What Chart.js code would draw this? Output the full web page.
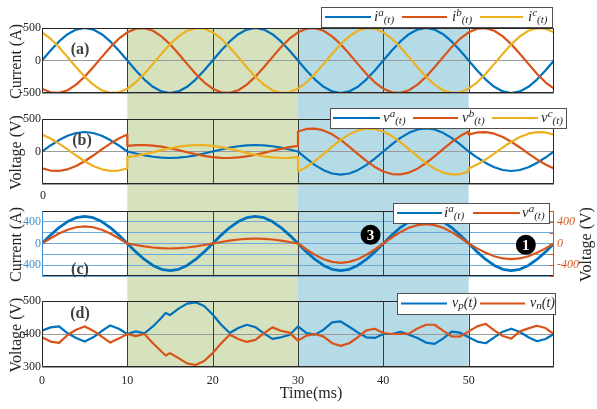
<!DOCTYPE html>
<html>
<head>
<meta charset="utf-8">
<title>Converter waveforms</title>
<script src="https://cdn.jsdelivr.net/npm/chart.js@4.4.1/dist/chart.umd.min.js"></script>
<style>
  html, body { margin: 0; background: #fff; }
  #wrap { position: relative; width: 597px; height: 409px; }
</style>
</head>
<body>
<div id="wrap"><canvas id="chart"></canvas></div>
<script>
// time base in ms
const tMs = [0,1,2,3,4,5,6,7,8,9,10,11,12,13,14,15,16,17,18,19,20,21,22,23,24,25,26,27,28,29,30,
  31,32,33,34,35,36,37,38,39,40,41,42,43,44,45,46,47,48,49,50,51,52,53,54,55,56,57,58,59,60];
// phase voltages step at every mode change, so 10/30/50 ms appear twice
const tStep = [0,1,2,3,4,5,6,7,8,9,10,10,11,12,13,14,15,16,17,18,19,20,21,22,23,24,25,26,27,28,29,30,
  30,31,32,33,34,35,36,37,38,39,40,41,42,43,44,45,46,47,48,49,50,50,51,52,53,54,55,56,57,58,59,60];
const tRipple = [0,1,2,3,4,5,6,7,8,9,10,11,12,13,14,14.5,15,16,17,18,19,20,21,22,23,24,25,26,27,28,29,30,
  31,32,33,34,35,36,37,38,39,40,41,42,43,44,45,46,47,48,49,50,51,52,53,54,55,56,57,58,59,60];

// operating modes (ms)
const modeGreen = [10, 30];
const modeBlue = [30, 50];
const gridTimes = [10, 20, 30, 40, 50];

// (a) phase currents, A
const ia = [0,155,294,405,476,500,476,405,294,155,0,-155,-294,-405,-476,-500,-476,-405,-294,-155,
  0,155,294,405,476,500,476,405,294,155,0,-155,-294,-405,-476,-500,-476,-405,-294,-155,
  0,155,294,405,476,500,476,405,294,155,0,-155,-294,-405,-476,-500,-476,-405,-294,-155,0];
const ib = [-433,-489,-497,-457,-372,-250,-104,52,203,335,433,489,497,457,372,250,104,-52,-203,-335,
  -433,-489,-497,-457,-372,-250,-104,52,203,335,433,489,497,457,372,250,104,-52,-203,-335,
  -433,-489,-497,-457,-372,-250,-104,52,203,335,433,489,497,457,372,250,104,-52,-203,-335,-433];
const ic = [433,335,203,52,-104,-250,-372,-457,-497,-489,-433,-335,-203,-52,104,250,372,457,497,489,
  433,335,203,52,-104,-250,-372,-457,-497,-489,-433,-335,-203,-52,104,250,372,457,497,489,
  433,335,203,52,-104,-250,-372,-457,-497,-489,-433,-335,-203,-52,104,250,372,457,497,489,433];

// (b) phase voltages, V
const va = [0,93,176,243,285,300,285,243,176,93,0,
  0,-31,-59,-81,-95,-100,-95,-81,-59,-31,0,31,59,81,95,100,95,81,59,31,0,
  0,-110,-209,-287,-338,-355,-338,-287,-209,-110,0,110,209,287,338,355,338,287,209,110,0,
  0,-93,-176,-243,-285,-300,-285,-243,-176,-93,0];
const vb = [-260,-293,-299,-274,-223,-150,-62,32,122,201,260,
  87,98,100,91,74,50,21,-11,-41,-67,-87,-98,-100,-91,-74,-50,-21,11,41,67,87,
  307,347,353,324,264,178,74,-37,-144,-237,-307,-347,-353,-324,-264,-178,-74,37,144,237,307,
  260,293,299,274,223,150,62,-32,-122,-201,-260];
const vc = [260,201,122,32,-62,-150,-223,-274,-299,-293,-260,
  -87,-67,-41,-11,21,50,74,91,100,98,87,67,41,11,-21,-50,-74,-91,-100,-98,-87,
  -307,-237,-144,-37,74,178,264,324,353,347,307,237,144,37,-74,-178,-264,-324,-353,-347,-307,
  -260,-201,-122,-32,62,150,223,274,299,293,260];

// (c) phase a voltage on the right axis, V
const vaRight = [0,97,185,255,300,315,300,255,185,97,
  0,-28,-54,-74,-87,-92,-87,-74,-54,-28,
  0,28,54,74,87,92,87,74,54,28,
  0,-111,-210,-290,-340,-358,-340,-290,-210,-111,
  0,111,210,290,340,358,340,290,210,111,
  0,-90,-171,-235,-276,-290,-276,-235,-171,-90,0];

// (d) dc-link capacitor voltages, V
const vp = [410,420,423,402,388,377,390,409,426,416,400,
  408,402,423,449,464,457,477,492,496,485,459,
  428,403,418,428,421,402,385,390,397,423,
  403,398,413,435,438,422,405,390,388,400,
  400,407,398,388,374,370,386,407,404,390,
  377,372,390,407,416,406,390,378,385,400];
const vn = [390,377,373,397,413,423,410,392,374,386,400,
  393,400,372,347,335,342,327,311,306,318,342,
  372,398,385,376,382,402,420,410,404,380,
  395,400,392,372,364,372,390,411,416,403,
  400,400,401,417,428,428,410,393,392,408,
  423,431,411,394,386,408,417,425,418,400];

const SERIF = "'Liberation Serif', 'DejaVu Serif', serif";
const INK = '#262626';
const BLUE = '#0072BD', RED = '#D95319', YEL = '#EDB120';
const C_AXIS = '#3d8ed0';

function pts(t, v) { return t.map((x, i) => ({ x, y: v[i] })); }

function line(label, t, v, axis, color, order, width) {
  return { label, data: pts(t, v), yAxisID: axis, borderColor: color, order, borderWidth: width || 2.2 };
}

const datasets = [
  line('ia(t)', tMs, ia, 'yA', BLUE, 2),
  line('ib(t)', tMs, ib, 'yA', RED, 1),
  line('ic(t)', tMs, ic, 'yA', YEL, 0),
  line('va(t)', tStep, va, 'yB', BLUE, 2),
  line('vb(t)', tStep, vb, 'yB', RED, 1),
  line('vc(t)', tStep, vc, 'yB', YEL, 0),
  line('ia(t)', tMs, ia, 'yC', BLUE, 1, 2.8),
  line('va(t)', tMs, vaRight, 'yCr', RED, 0),
  line('vp(t)', tRipple, vp, 'yD', BLUE, 1),
  line('vn(t)', tRipple, vn, 'yD', RED, 0)
];

const tickFont = { family: SERIF, size: 12 };

function leftAxis(weight, stackWeight, min, max, step) {
  return {
    type: 'linear', position: 'left', stack: 'L', stackWeight, weight, min, max,
    afterFit: s => { s.width = 42; },
    ticks: { stepSize: step, font: tickFont, color: INK, padding: 1, autoSkip: false },
    grid: { color: '#9a9a9a', drawTicks: false, lineWidth: 1 },
    border: { display: false }
  };
}

function spacer(position, stack, weight, stackWeight) {
  return { type: 'linear', display: false, position, stack, stackWeight, weight, min: 0, max: 1 };
}

const scales = {
  x: {
    type: 'linear', min: 0, max: 60, position: 'bottom',
    afterFit: s => { s.height = 42; },
    grid: { display: false, drawTicks: false },
    border: { display: false },
    ticks: { stepSize: 10, font: tickFont, color: INK, padding: 7, maxRotation: 0, autoSkip: false,
      callback: v => (v === 60 ? '' : v) }
  },
  yA: leftAxis(7, 65, -500, 500, 500),
  gapAB: spacer('left', 'L', 6, 26),
  yB: leftAxis(5, 65, -500, 500, 500),
  gapBC: spacer('left', 'L', 4, 27),
  yC: leftAxis(3, 65, -600, 600, 200),
  gapCD: spacer('left', 'L', 2, 25),
  yD: leftAxis(1, 66, 300, 500, 100),
  rTop: spacer('right', 'R', 1, 183),
  yCr: {
    type: 'linear', position: 'right', stack: 'R', stackWeight: 65, weight: 2, min: -600, max: 600,
    afterFit: s => { s.width = 43; },
    ticks: { stepSize: 200, font: { family: SERIF, size: 12, style: 'italic' }, color: RED, padding: 3,
      autoSkip: false, callback: v => ([400, 0, -400].includes(v) ? v : '') },
    grid: { display: false, drawTicks: false },
    border: { display: false }
  },
  rBottom: spacer('right', 'R', 3, 91)
};
scales.yB.ticks.callback = v => (v === -500 ? '' : v);
scales.yC.ticks.color = C_AXIS;
scales.yC.ticks.callback = v => ([400, 0, -400].includes(v) ? v : '');
scales.yC.grid.color = '#6aaadc';

function text(ctx, str, x, y, font, color, align) {
  ctx.font = font;
  ctx.fillStyle = color;
  ctx.textAlign = align || 'center';
  ctx.textBaseline = 'middle';
  ctx.fillText(str, x, y);
}

function vtext(ctx, str, x, y, font, color) {
  ctx.save();
  ctx.translate(x, y);
  ctx.rotate(-Math.PI / 2);
  text(ctx, str, 0, 0, font, color);
  ctx.restore();
}

// symbol like i_a(t): base letter, small index, then (t)
function mathLabel(ctx, x, y, base, idx, st) {
  ctx.fillStyle = INK;
  ctx.textAlign = 'left';
  ctx.textBaseline = 'middle';
  ctx.font = `italic ${st.base}px ${SERIF}`;
  ctx.fillText(base, x, y);
  x += ctx.measureText(base).width;
  ctx.font = `italic ${st.idx}px ${SERIF}`;
  ctx.fillText(idx, x, y + st.idxDy);
  x += ctx.measureText(idx).width;
  ctx.font = `italic ${st.tail}px ${SERIF}`;
  ctx.fillText('(t)', x, y + st.tailDy);
}

const supStyle = { base: 15, idx: 11, idxDy: -4, tail: 11, tailDy: 3 };
const subStyle = { base: 14, idx: 11, idxDy: 3, tail: 14, tailDy: 0 };

function legendBox(ctx, box, entries, st) {
  ctx.save();
  ctx.fillStyle = '#fff';
  ctx.fillRect(box[0], box[1], box[2] - box[0], box[3] - box[1]);
  ctx.strokeStyle = '#505050';
  ctx.lineWidth = 1;
  ctx.strokeRect(box[0] + 0.5, box[1] + 0.5, box[2] - box[0], box[3] - box[1]);
  const ym = (box[1] + box[3]) / 2;
  entries.forEach(e => {
    ctx.strokeStyle = e.color;
    ctx.lineWidth = 2.2;
    ctx.beginPath();
    ctx.moveTo(e.x0, ym);
    ctx.lineTo(e.x1, ym);
    ctx.stroke();
    mathLabel(ctx, e.tx, ym, e.base, e.idx, st);
  });
  ctx.restore();
}

function badge(ctx, x, y, num) {
  ctx.save();
  ctx.fillStyle = '#000';
  ctx.beginPath();
  ctx.arc(x, y, 10, 0, Math.PI * 2);
  ctx.fill();
  text(ctx, num, x, y + 1, `bold 15px ${SERIF}`, '#fff');
  ctx.restore();
}

const panelIds = ['yA', 'yB', 'yC', 'yD'];

const furniture = {
  id: 'furniture',
  beforeDraw(chart) {
    const { ctx, scales: s } = chart;
    const top = s.yA.top, bottom = s.yD.bottom;
    ctx.save();
    [[modeGreen, '#d6e1be'], [modeBlue, '#b5dbe6']].forEach(([span, color]) => {
      const x0 = s.x.getPixelForValue(span[0]);
      const x1 = s.x.getPixelForValue(span[1]);
      ctx.fillStyle = color;
      ctx.fillRect(x0, top, x1 - x0, bottom - top);
    });
    ctx.restore();
  },
  beforeDatasetsDraw(chart) {
    const { ctx, scales: s } = chart;
    ctx.save();
    ctx.strokeStyle = '#3c3c3c';
    ctx.lineWidth = 1;
    panelIds.forEach(id => {
      const p = s[id];
      gridTimes.forEach(t => {
        const px = Math.round(s.x.getPixelForValue(t)) + 0.5;
        ctx.beginPath();
        ctx.moveTo(px, p.top);
        ctx.lineTo(px, p.bottom);
        ctx.stroke();
      });
    });
    ctx.restore();
  },
  beforeDatasetDraw(chart, args) {
    const { ctx, chartArea } = chart;
    const ys = chart.scales[args.meta.yAxisID];
    ctx.save();
    ctx.beginPath();
    ctx.rect(chartArea.left, ys.top, chartArea.right - chartArea.left, ys.bottom - ys.top);
    ctx.clip();
  },
  afterDatasetDraw(chart) {
    chart.ctx.restore();
  },
  afterDatasetsDraw(chart) {
    const { ctx, chartArea, scales: s } = chart;
    const L = chartArea.left + 0.5, R = Math.round(chartArea.right) - 0.5;
    ctx.save();
    ctx.lineWidth = 1;
    panelIds.forEach(id => {
      const p = s[id];
      const T = Math.round(p.top) + 0.5, B = Math.round(p.bottom) - 0.5;
      ctx.strokeStyle = INK;
      ctx.beginPath();
      ctx.moveTo(L, T); ctx.lineTo(R, T);
      ctx.moveTo(L, B); ctx.lineTo(R, B);
      ctx.stroke();
      ctx.strokeStyle = id === 'yC' ? C_AXIS : INK;
      ctx.beginPath(); ctx.moveTo(L, T); ctx.lineTo(L, B); ctx.stroke();
      ctx.strokeStyle = id === 'yC' ? RED : INK;
      ctx.beginPath(); ctx.moveTo(R, T); ctx.lineTo(R, B); ctx.stroke();
    });
    // inside tick marks of the right voltage axis
    ctx.strokeStyle = RED;
    s.yCr.ticks.forEach(tk => {
      const py = Math.round(s.yCr.getPixelForValue(tk.value)) + 0.5;
      ctx.beginPath(); ctx.moveTo(R - 4, py); ctx.lineTo(R, py); ctx.stroke();
    });
    ctx.restore();
  },
  afterDraw(chart) {
    const { ctx, scales: s } = chart;
    ctx.save();
    const title = `16px ${SERIF}`;
    const mid = id => (s[id].top + s[id].bottom) / 2 + 1;
    vtext(ctx, 'Current (A)', 17, mid('yA'), title, INK);
    vtext(ctx, 'Voltage (V)', 17, mid('yB'), title, INK);
    vtext(ctx, 'Current (A)', 17, mid('yC'), title, INK);
    vtext(ctx, 'Voltage (V)', 17, mid('yD'), title, INK);
    vtext(ctx, 'Voltage (V)', 587, mid('yC'), title, INK);
    text(ctx, 'Time(ms)', 311, 394, title, INK);
    text(ctx, '0', s.x.getPixelForValue(0) + 1, s.yB.bottom + 12, `12px ${SERIF}`, INK);

    const tag = `bold 16px ${SERIF}`;
    text(ctx, '(a)', 80, s.yA.top + 22, tag, '#404040');
    text(ctx, '(b)', 82, s.yB.top + 22, tag, '#404040');
    text(ctx, '(c)', 80, s.yC.bottom - 6, tag, '#404040');
    text(ctx, '(d)', 80, s.yD.top + 13, tag, '#404040');

    legendBox(ctx, [321, 7, 552, 27], [
      { color: BLUE, x0: 325, x1: 371, tx: 374, base: 'i', idx: 'a' },
      { color: RED, x0: 402, x1: 447, tx: 452, base: 'i', idx: 'b' },
      { color: YEL, x0: 480, x1: 523, tx: 528, base: 'i', idx: 'c' }
    ], supStyle);
    legendBox(ctx, [330, 108, 566, 128], [
      { color: BLUE, x0: 333, x1: 380, tx: 383, base: 'v', idx: 'a' },
      { color: RED, x0: 413, x1: 458, tx: 462, base: 'v', idx: 'b' },
      { color: YEL, x0: 492, x1: 538, tx: 541, base: 'v', idx: 'c' }
    ], supStyle);
    legendBox(ctx, [393, 203, 549, 223], [
      { color: BLUE, x0: 397, x1: 442, tx: 444, base: 'i', idx: 'a' },
      { color: RED, x0: 473, x1: 520, tx: 522, base: 'v', idx: 'a' }
    ], supStyle);
    legendBox(ctx, [397, 293, 555, 314], [
      { color: BLUE, x0: 401, x1: 447, tx: 452, base: 'v', idx: 'p' },
      { color: RED, x0: 480, x1: 525, tx: 530, base: 'v', idx: 'n' }
    ], subStyle);

    badge(ctx, s.x.getPixelForValue(38.5), s.yC.getPixelForValue(160), '3');
    badge(ctx, s.x.getPixelForValue(56.7), s.yC.getPixelForValue(-25), '1');
    ctx.restore();
  }
};

Chart.defaults.font.family = SERIF;

new Chart(document.getElementById('chart'), {
  type: 'line',
  data: { datasets },
  options: {
    responsive: true,
    maintainAspectRatio: false,
    devicePixelRatio: 1,
    animation: false,
    parsing: true,
    layout: { padding: { top: 28, left: 0, right: 0, bottom: 0 } },
    elements: {
      point: { radius: 0, hoverRadius: 0 },
      line: { tension: 0, fill: false, borderJoinStyle: 'round' }
    },
    plugins: { legend: { display: false }, tooltip: { enabled: false } },
    scales
  },
  plugins: [furniture]
});
</script>
</body>
</html>
